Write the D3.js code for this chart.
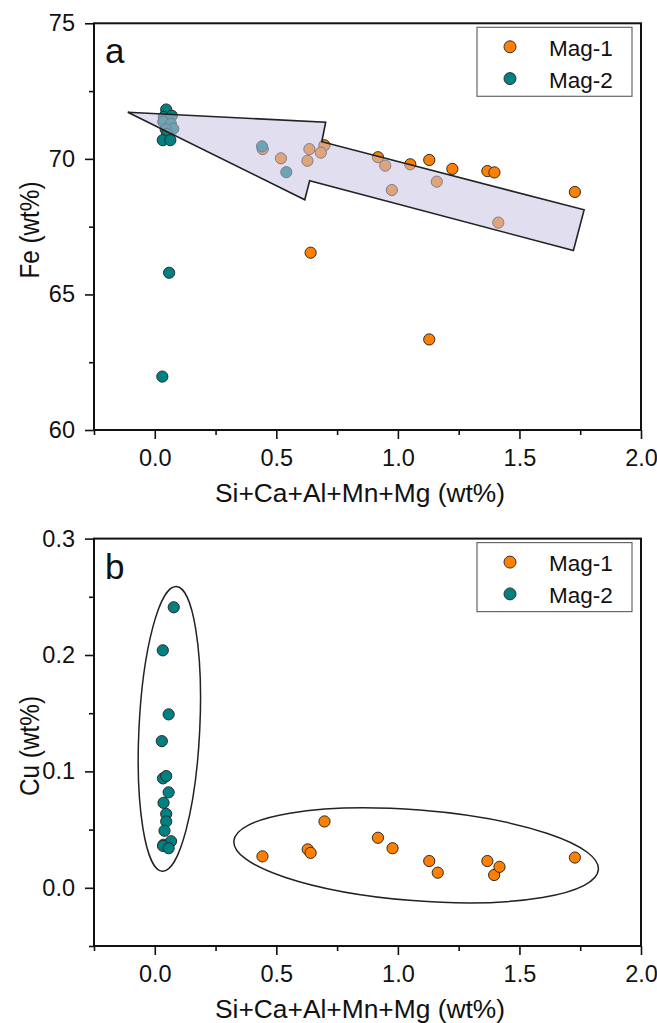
<!DOCTYPE html>
<html><head><meta charset="utf-8">
<script src="https://cdn.jsdelivr.net/npm/d3@7"></script>
<style>
html,body{margin:0;padding:0;background:#fff;}
svg{display:block;}
text{font-family:"Liberation Sans", Arial, sans-serif;fill:#111;}
</style></head>
<body>
<svg id="chart" width="657" height="1023"></svg>
<script>
// ---------- data ----------
const xTicks = [0.0, 0.5, 1.0, 1.5, 2.0];
const xMinorTicks = [-0.25, 0.25, 0.75, 1.25, 1.75];
const feTicks = [60, 65, 70, 75];
const feMinorTicks = [62.5, 67.5, 72.5];
const cuTicks = [0.0, 0.1, 0.2, 0.3];
const cuMinorTicks = [-0.05, 0.05, 0.15, 0.25];
const seriesNames = ["Mag-1", "Mag-2"];
const seriesColors = ["#ff8000", "#008080"];

// panel a : Fe vs Si+Ca+Al+Mn+Mg
const mag1SumA = [1.728, 1.368, 1.397, 1.224, 1.129, 1.051, 0.918, 0.698, 0.641, 1.129,
                  0.444, 0.519, 0.636, 0.628, 0.683, 0.948, 0.975, 1.160, 1.413];
const mag1Fe   = [68.78, 69.55, 69.50, 69.63, 69.96, 69.80, 70.06, 70.50, 66.54, 63.34,
                  70.36, 70.02, 70.36, 69.93, 70.23, 69.75, 68.85, 69.16, 67.65];
const mag2SumA = [0.031, 0.059, 0.047, 0.037, 0.070, 0.035, 0.066, 0.076, 0.045,
                  0.051, 0.033, 0.064, 0.441, 0.541];
const mag2Fe   = [61.97, 65.80, 71.82, 71.55, 71.59, 71.37, 71.29, 71.11, 71.09,
                  70.92, 70.69, 70.69, 70.46, 69.51];

// arrow outline (data coordinates of panel a)
const arrowSum = [-0.111, 0.703, 0.687, 1.766, 1.722, 0.637, 0.617];
const arrowFe  = [71.72, 71.35, 70.63, 68.12, 66.62, 69.19, 68.49];

// panel b : Cu vs Si+Ca+Al+Mn+Mg
const mag1SumB = [0.443, 0.629, 0.641, 0.698, 0.918, 0.978, 1.129, 1.164, 1.368, 1.396, 1.418, 1.728];
const mag1Cu   = [0.027, 0.033, 0.030, 0.057, 0.043, 0.034, 0.023, 0.013, 0.023, 0.011, 0.018, 0.026];
const mag2SumB = [0.078, 0.033, 0.057, 0.029, 0.034, 0.047, 0.057, 0.036, 0.047, 0.047, 0.040, 0.036, 0.067, 0.034, 0.057];
const mag2Cu   = [0.241, 0.204, 0.149, 0.126, 0.094, 0.096, 0.082, 0.073, 0.0635, 0.057, 0.049, 0.037, 0.040, 0.036, 0.034];

// grouping ellipses in panel b (centre in data, radii in data units, tilt in degrees)
const ellCx    = [0.060, 1.075];
const ellCy    = [0.1365, 0.0279];
const ellRx    = [0.125, 0.752];
const ellRy    = [0.1225, 0.039];
const ellAngle = [2.8, 4.5];

// ---------- drawing ----------
const svg = d3.select("#chart");
const L = 94, R = 641;
const x = d3.scaleLinear().domain([-0.25, 2.0]).range([L, R]);
const yA = d3.scaleLinear().domain([60, 75]).range([430, 23.3]);
const yB = d3.scaleLinear().domain([-0.05, 0.3]).range([946, 538.6]);

function drawAxes(g, y, yT, yMinor, yFmt, yLabel, labelCy, labelLen, letter) {
  const top = y.range()[1], bottom = y.range()[0];
  // x axis
  const ax = g.append("g").attr("transform", `translate(0,${bottom})`)
    .call(d3.axisBottom(x).tickValues(xTicks).tickSize(9).tickPadding(10).tickFormat(d3.format(".1f")));
  ax.select(".domain").remove();
  const axm = g.append("g").attr("transform", `translate(0,${bottom})`)
    .call(d3.axisBottom(x).tickValues(xMinorTicks).tickSize(5).tickFormat(""));
  axm.select(".domain").remove();
  // y axis
  const ay = g.append("g").attr("transform", `translate(${L},0)`)
    .call(d3.axisLeft(y).tickValues(yT).tickSize(9).tickPadding(10).tickFormat(yFmt));
  ay.select(".domain").remove();
  const aym = g.append("g").attr("transform", `translate(${L},0)`)
    .call(d3.axisLeft(y).tickValues(yMinor).tickSize(5).tickFormat(""));
  aym.select(".domain").remove();
  g.selectAll(".tick line").attr("stroke", "#111").attr("stroke-width", 1.6);
  g.selectAll(".tick text").attr("font-size", 23.5).attr("font-family", '"Liberation Sans", Arial, sans-serif').attr("fill", "#111");
  // frame
  g.append("rect").attr("x", L).attr("y", top).attr("width", R - L).attr("height", bottom - top)
    .attr("fill", "none").attr("stroke", "#111").attr("stroke-width", 2);
  // labels
  g.append("text").attr("x", 360).attr("y", bottom + 71.5).attr("text-anchor", "middle")
    .attr("font-size", 25).attr("textLength", 290).attr("lengthAdjust", "spacingAndGlyphs")
    .text("Si+Ca+Al+Mn+Mg (wt%)");
  g.append("text").attr("transform", `translate(39,${labelCy}) rotate(-90)`).attr("text-anchor", "middle")
    .attr("font-size", 28).attr("textLength", labelLen).attr("lengthAdjust", "spacingAndGlyphs")
    .text(yLabel);
  g.append("text").attr("x", 105).attr("y", top + 40).attr("font-size", 35).text(letter);
}

function drawLegend(g, top) {
  const bx = 477, bw = 155, bh = 69;
  g.append("rect").attr("x", bx).attr("y", top + 4).attr("width", bw).attr("height", bh)
    .attr("fill", "#fff").attr("stroke", "#666").attr("stroke-width", 1.2);
  seriesNames.forEach((n, i) => {
    const cy = top + 23.5 + i * 31.8;
    g.append("circle").attr("cx", 510).attr("cy", cy).attr("r", 6)
      .attr("fill", seriesColors[i]).attr("stroke", "#333").attr("stroke-width", 1);
    g.append("text").attr("x", 549).attr("y", cy + 9).attr("font-size", 22.5).text(n);
  });
}

function drawPoints(g, xs, ys, y, color) {
  g.selectAll(null).data(xs.map((v, i) => [v, ys[i]])).enter().append("circle")
    .attr("cx", d => x(d[0])).attr("cy", d => y(d[1])).attr("r", 5.6)
    .attr("fill", color).attr("stroke", "#2a2a2a").attr("stroke-width", 1);
}

// ----- panel a -----
const gA = svg.append("g");
drawPoints(gA, mag1SumA, mag1Fe, yA, seriesColors[0]);
drawPoints(gA, mag2SumA, mag2Fe, yA, seriesColors[1]);
const arrowPts = arrowSum.map((v, i) => [x(v), yA(arrowFe[i])]);
gA.append("path").attr("d", d3.line()(arrowPts) + "Z")
  .attr("fill", "#c6c2e2").attr("fill-opacity", 0.54)
  .attr("stroke", "#222").attr("stroke-width", 1.6).attr("stroke-linejoin", "miter");
drawAxes(gA, yA, feTicks, feMinorTicks, d3.format("d"), "Fe (wt%)", 230, 97, "a");
drawLegend(gA, yA.range()[1]);

// ----- panel b -----
const gB = svg.append("g");
ellCx.forEach((c, i) => {
  const px = x(c), py = yB(ellCy[i]);
  gB.append("ellipse").attr("cx", 0).attr("cy", 0)
    .attr("rx", x(c + ellRx[i]) - px).attr("ry", py - yB(ellCy[i] + ellRy[i]))
    .attr("transform", `translate(${px},${py}) rotate(${ellAngle[i]})`)
    .attr("fill", "none").attr("stroke", "#222").attr("stroke-width", 1.5);
});
drawPoints(gB, mag1SumB, mag1Cu, yB, seriesColors[0]);
drawPoints(gB, mag2SumB, mag2Cu, yB, seriesColors[1]);
drawAxes(gB, yB, cuTicks, cuMinorTicks, d3.format(".1f"), "Cu (wt%)", 746, 100, "b");
drawLegend(gB, yB.range()[1]);
</script>
</body></html>
